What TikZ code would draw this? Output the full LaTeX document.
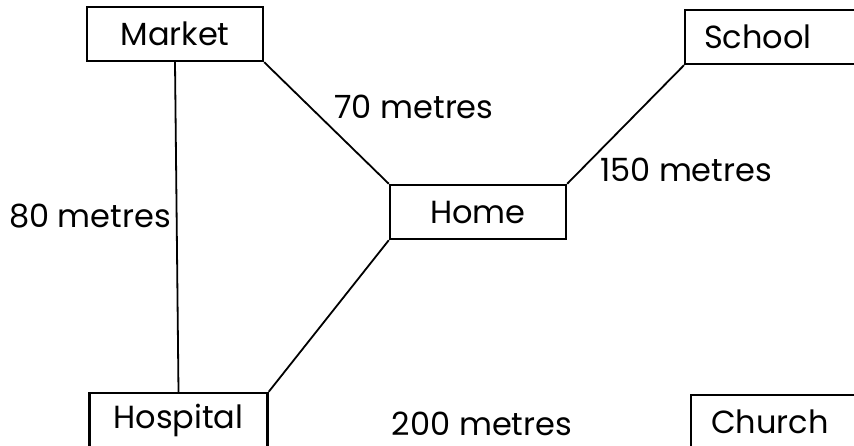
\documentclass[tikz,border=0pt]{standalone}
\usepackage{fontspec}
\setmainfont{Poppins}
\usetikzlibrary{positioning}

\tikzset{
	place/.style={draw, line width=2.4pt, minimum height=54pt, inner xsep=0pt, font=\fontsize{32}{36}\selectfont},
	road/.style={line width=1.8pt},
	dist/.style={inner sep=1pt, font=\fontsize{32}{36}\selectfont}
}

\begin{document}
\begin{tikzpicture}[x=1pt, y=-1pt]
	\useasboundingbox (0,0) rectangle (854,446);
	\clip (0,0) rectangle (854,446);
	% places
	\node[place, minimum width=176pt] (market) at (175,34) {Market};
	\node[place, minimum width=176pt] (home) at (478,212) {Home};
	\node[place, minimum width=178pt] (hospital) at (178.5,420) {Hospital};
	\node[place, anchor=west, text width=152pt, inner xsep=19pt] (school) at (684,37) {School};
	\node[place, anchor=west, text width=150pt, inner xsep=20pt] (church) at (690,422) {Church};
	% roads
	\draw[road] (market.south) -- (hospital.north);
	\draw[road] (market.south east) -- (home.north west);
	\draw[road] (home.north east) -- (school.south west);
	\draw[road] (home.south west) -- (hospital.north east);
	% distances
	\node[dist] (dmh) at (414,107) {70 metres};
	\node[dist] (dhs) at (686,170) {150 metres};
	\node[dist] (dmp) at (90,216) {80 metres};
	\node[dist] (dpc) at (482,424) {200 metres};
\end{tikzpicture}
\end{document}
